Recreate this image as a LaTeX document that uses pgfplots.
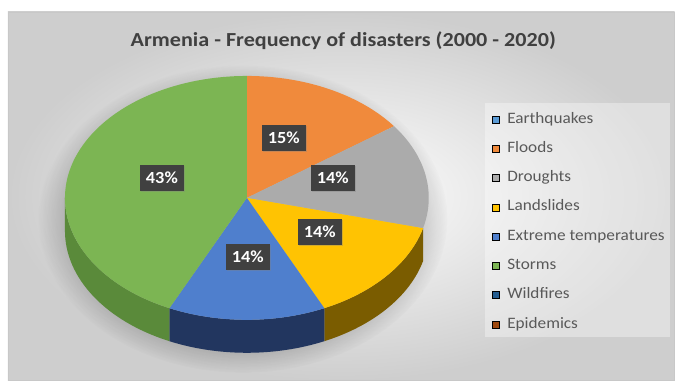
\documentclass[border=0pt]{standalone}
\usepackage{pgfplots}
\pgfplotsset{compat=1.18}
\usepackage{pgfplotstable}
\usepackage{graphicx}
\usepackage{fontspec}
\setmainfont{Carlito}
\usetikzlibrary{fadings,shadows}

\definecolor{cEq}{HTML}{5B9BD5}
\definecolor{cFl}{HTML}{F08A3C}
\definecolor{cDr}{HTML}{ABABAB}
\definecolor{cLa}{HTML}{FFC302}
\definecolor{cEx}{HTML}{4F7FCD}
\definecolor{cSt}{HTML}{7CB553}
\definecolor{cWi}{HTML}{255E91}
\definecolor{cEp}{HTML}{9E480E}
\definecolor{sLa}{HTML}{7A5C00}
\definecolor{sEx}{HTML}{22365F}
\definecolor{sSt}{HTML}{5A8A3A}
\definecolor{labbg}{HTML}{404040}
\definecolor{titlec}{HTML}{404040}
\definecolor{legc}{HTML}{595959}

% Share of disasters (percent), Excel pie order, clockwise from 12 o'clock
\pgfplotstableread{
name        value start end
Earthquakes 0     0     0
Floods      15    0     15
Droughts    14    15    29
Landslides  14    29    43
Extreme     14    43    57
Storms      43    57    100
Wildfires   0     100   100
Epidemics   0     100   100
}\disasters

% pie geometry (axis units = bp)
\newcommand{\cx}{247}
\newcommand{\cy}{183}
\newcommand{\rx}{182}
\newcommand{\ry}{122}

% top face of a slice: #1 start %, #2 end %, #3 colour
\newcommand{\topslice}[3]{%
  \addplot[fill=#3, draw=none, forget plot, domain={#1*3.6}:{#2*3.6}, samples=80, variable=\t]
    ({\cx+\rx*sin(\t)},{\cy+\ry*cos(\t)}) -- (axis cs:\cx,\cy) -- cycle;}
% visible side of a slice: #1 start deg, #2 end deg, #3 colour
\newcommand{\sideslice}[3]{%
  \addplot[fill=#3, draw=none, forget plot, domain=#1:#2, samples=60, variable=\t]
    ({\cx+\rx*sin(\t)},{\cy+\ry*cos(\t)}) -- ++(0bp,-33bp)
    arc[start angle={90-#2}, end angle={90-#1}, x radius=182bp, y radius=122bp] -- cycle;}

\pgfplotsset{sqlegend/.style={legend image code/.code={\fill[##1] (0bp,-3.5bp) rectangle (7bp,3.5bp);}}}
\newcommand{\lx}[1]{\scalebox{1.08}[1]{#1}}

\tikzset{lab/.style={fill=labbg, text=white, font=\bfseries\fontsize{17}{20}\selectfont,
  minimum width=44bp, minimum height=26bp, inner sep=0pt,
  drop shadow={opacity=0.35, shadow xshift=1.5bp, shadow yshift=-1.5bp}}}

\begin{document}
\begin{tikzpicture}
\begin{axis}[
  width=675bp, height=381bp, scale only axis,
  xmin=0, xmax=675, ymin=0, ymax=381,
  enlargelimits=false, hide axis, clip=false,
  legend style={draw=none, fill=none, at={(axis cs:492,269.5)}, anchor=north west,
    inner sep=0pt, row sep=13.8bp, column sep=8bp,
    font=\fontsize{16}{19}\selectfont, text=legc,
    nodes={inner sep=0pt, text height=11.5bp, text depth=4bp}},
  legend cell align=left,
]
% frame and background
\path (axis cs:0,0) rectangle (axis cs:675,381);
\shade[inner color=white, outer color={rgb,255:red,206;green,206;blue,206}, draw={rgb,255:red,200;green,200;blue,200}, line width=0.8bp]
  (axis cs:8,0) rectangle (axis cs:675,369);
% soft shadow of the pie
\fill[black, opacity=0.24, path fading=circle with fuzzy edge 20 percent]
  (axis cs:243,162) ellipse [x radius=205bp, y radius=154bp];
% legend box
\fill[white, opacity=0.35] (axis cs:485,44) rectangle (axis cs:670,278);

% side faces (front half)
\sideslice{104.4}{154.8}{sLa}
\sideslice{154.8}{205.2}{sEx}
\sideslice{205.2}{270}{sSt}
% top faces
\topslice{0}{15}{cFl}
\topslice{15}{29}{cDr}
\topslice{29}{43}{cLa}
\topslice{43}{57}{cEx}
\topslice{57}{100}{cSt}

% legend entries
\addlegendimage{sqlegend, fill=cEq}
\addlegendimage{sqlegend, fill=cFl}
\addlegendimage{sqlegend, fill=cDr}
\addlegendimage{sqlegend, fill=cLa}
\addlegendimage{sqlegend, fill=cEx}
\addlegendimage{sqlegend, fill=cSt}
\addlegendimage{sqlegend, fill=cWi}
\addlegendimage{sqlegend, fill=cEp}
\legend{\lx{Earthquakes}, \lx{Floods}, \lx{Droughts}, \lx{Landslides}, \lx{Extreme temperatures}, \lx{Storms}, \lx{Wildfires}, \lx{Epidemics}}

% data labels
\node[lab] at (axis cs:284,243) {\scalebox{1.08}[1]{15\%}};
\node[lab] at (axis cs:333,203) {\scalebox{1.08}[1]{14\%}};
\node[lab] at (axis cs:320,149) {\scalebox{1.08}[1]{14\%}};
\node[lab] at (axis cs:248,124) {\scalebox{1.08}[1]{14\%}};
\node[lab] at (axis cs:162,203) {\scalebox{1.08}[1]{43\%}};

% title
\node[font=\bfseries\fontsize{20}{24}\selectfont, text=titlec] at (axis cs:343.5,340)
  {\scalebox{1.11}[1]{Armenia - Frequency of disasters (2000 - 2020)}};
\end{axis}
\end{tikzpicture}
\end{document}
